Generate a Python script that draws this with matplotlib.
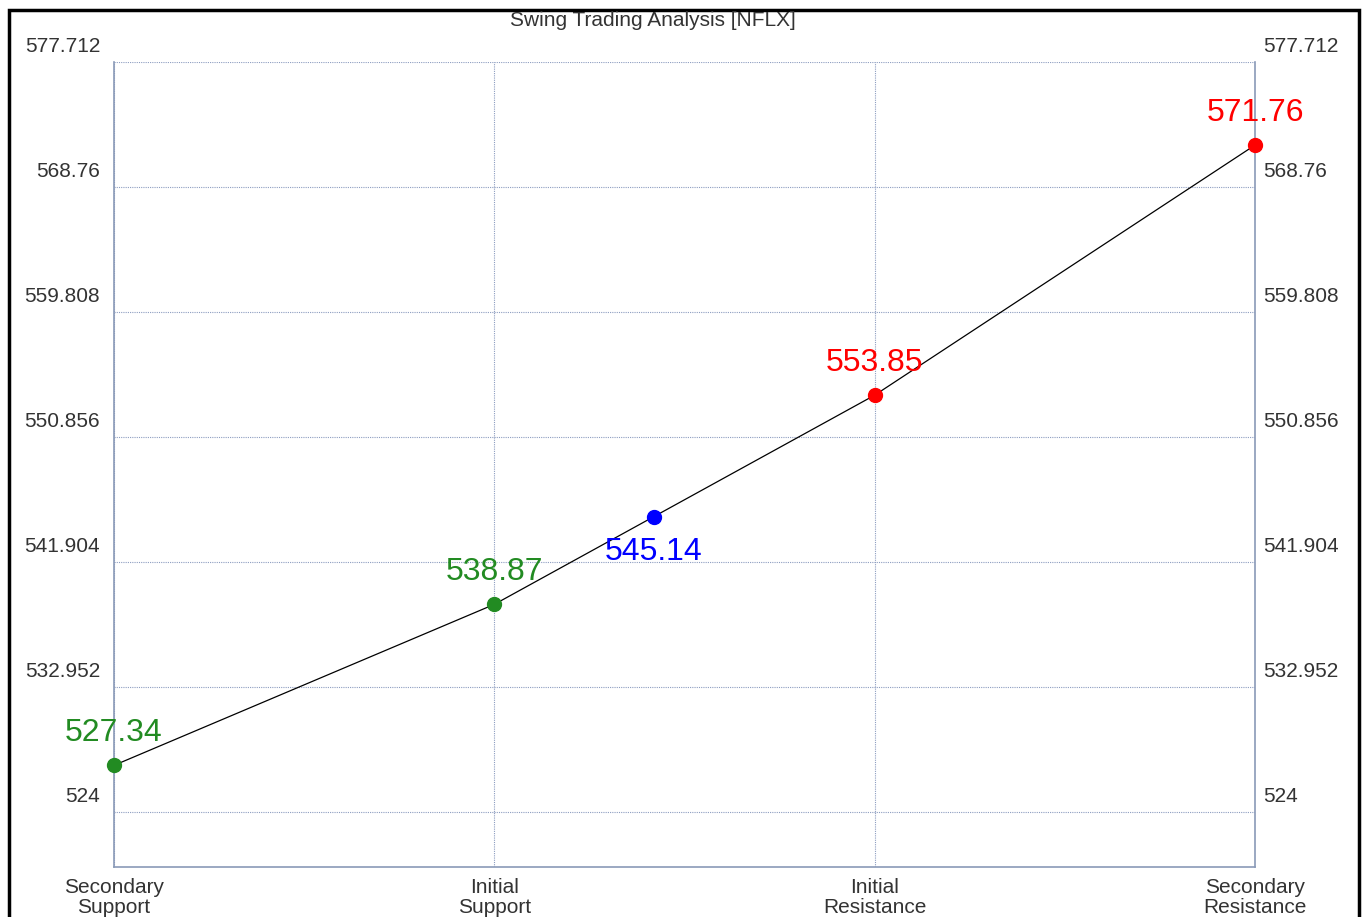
import matplotlib
matplotlib.use('Agg')
import matplotlib.pyplot as plt
from matplotlib.patches import Rectangle
from matplotlib.transforms import ScaledTranslation

plt.rcParams['font.family'] = ['Liberation Sans', 'DejaVu Sans']

# ---- data ----
level_names = ['Secondary\nSupport', 'Initial\nSupport', 'Initial\nResistance', 'Secondary\nResistance']
level_pos = [0, 1, 2, 3]
level_vals = [527.34, 538.87, 553.85, 571.76]
level_colors = ['#228b22', '#228b22', '#ff0000', '#ff0000']

current_val = 545.14
current_pos = 1 + (current_val - level_vals[1]) / (level_vals[2] - level_vals[1])

y_ticks = [524, 532.952, 541.904, 550.856, 559.808, 568.76, 577.712]
y_tick_labels = ['524', '532.952', '541.904', '550.856', '559.808', '568.76', '577.712']

# ---- figure ----
fig = plt.figure(figsize=(13.65, 9.17), dpi=100)
ax = fig.add_axes([114 / 1365, 1 - 867 / 917, (1255 - 114) / 1365, (867 - 62) / 917])

spine_col = '#8a9ab8'
grid_col = '#8d9dc0'
txt_col = '#333333'

xs = level_pos[:2] + [current_pos] + level_pos[2:]
ys = level_vals[:2] + [current_val] + level_vals[2:]
ax.plot(xs, ys, color='black', linewidth=0.9, zorder=3)

for x, v, c in zip(level_pos, level_vals, level_colors):
    ax.plot(x, v, 'o', color=c, markersize=10, zorder=4, clip_on=False)
    ax.annotate(f'{v:.2f}', (x, v), xytext=(0, 23), textcoords='offset points',
                ha='center', va='center', color=c, fontsize=23, zorder=5)

ax.plot(current_pos, current_val, 'o', color='#0000ff', markersize=10, zorder=4)
ax.annotate(f'{current_val:.2f}', (current_pos, current_val), xytext=(0, -25),
            textcoords='offset points', ha='center', va='center',
            color='#0000ff', fontsize=23, zorder=5)

ax.set_xlim(0, 3)
ax.set_ylim(520.06, 577.712)

ax.set_xticks(level_pos)
ax.set_xticklabels(level_names, fontsize=15, color=txt_col, linespacing=1.05)
ax.set_yticks(y_ticks)
ax.set_yticklabels(y_tick_labels, fontsize=15, color=txt_col)

ax.tick_params(axis='x', length=0, pad=8)
ax.tick_params(axis='y', length=0, pad=10, labelright=True, labelleft=True)

# move y tick labels up above their grid lines
up = ScaledTranslation(0, 17 / 100, fig.dpi_scale_trans)
up_left = ScaledTranslation(-6 / 100, 17 / 100, fig.dpi_scale_trans)
for tick in ax.yaxis.get_major_ticks():
    tick.label1.set_transform(tick.label1.get_transform() + up)
    tick.label2.set_transform(tick.label2.get_transform() + up_left)

ax.grid(True, color=grid_col, linestyle=(0, (1, 1)), linewidth=0.8)

for side in ['left', 'bottom', 'right']:
    ax.spines[side].set_color(spine_col)
    ax.spines[side].set_linewidth(1.2)
ax.spines['top'].set_visible(False)

fig.text(653 / 1365, 1 - 21 / 917, 'Swing Trading Analysis [NFLX]',
         ha='center', va='center', fontsize=15, color=txt_col)

# outer black frame
fig.patches.append(Rectangle((8.5 / 1365, -0.05), (1358.5 - 8.5) / 1365, 1.05 - 10 / 917,
                             transform=fig.transFigure, fill=False,
                             edgecolor='black', linewidth=2.5))

fig.savefig('out.png', dpi=100)
